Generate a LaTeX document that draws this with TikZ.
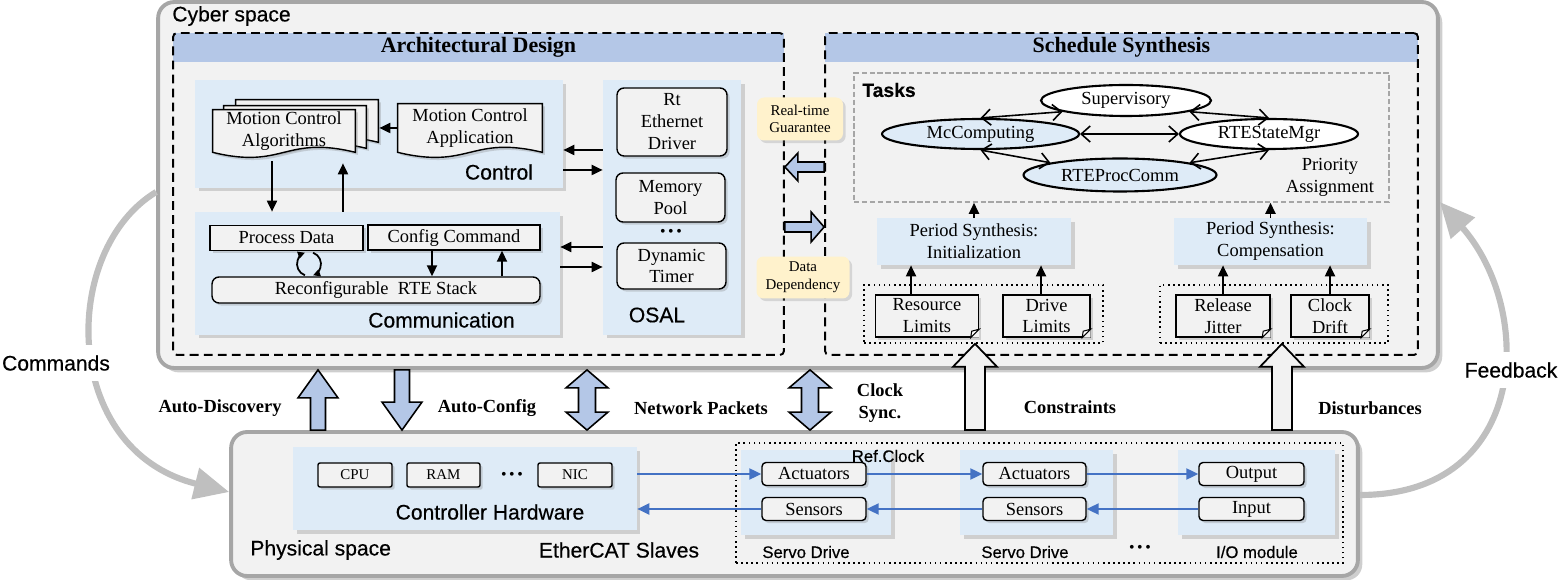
\documentclass[tikz,border=0pt]{standalone}
\usepackage{fontspec}
\setmainfont{Liberation Serif}
\newfontfamily\labelsf[FakeBold=0.4]{Liberation Sans}
\definecolor{csbg}{RGB}{242,242,242}
\definecolor{csframe}{RGB}{166,166,166}
\definecolor{cspanel}{RGB}{222,235,247}
\definecolor{csheader}{RGB}{180,199,231}
\definecolor{csnote}{RGB}{255,242,204}
\definecolor{cslink}{RGB}{68,114,196}
\definecolor{csarc}{RGB}{191,191,191}
\usetikzlibrary{arrows.meta,positioning,shapes.geometric,shadows,calc}

% document outline with a wavy lower edge
\newcommand{\wavedoc}[2][(0,0)]{%
  \draw[docline] ([shift={#1}]#2.south west) -- ([shift={#1}]#2.north west) -- ([shift={#1}]#2.north east)
    -- ([shift={#1}]#2.south east) .. controls ([shift={#1},yshift=0.35cm]#2.south) and ([shift={#1},yshift=-0.35cm]#2.south)
    .. ([shift={#1}]#2.south west) -- cycle;}
% folded corner of a note
\newcommand{\foldnote}[1]{%
  \fill[csbg] ([xshift=-0.17cm]#1.south east) -- (#1.south east) -- ([yshift=0.17cm]#1.south east) -- cycle;
  \draw[line width=0.6pt, fill=white] ([xshift=-0.17cm]#1.south east) -- ([yshift=0.17cm]#1.south east)
    -- ([xshift=-0.15cm,yshift=0.13cm]#1.south east) -- cycle;}
% block arrow: style, tail, tip, shaft half width, head half width, head length
\newcommand{\blkarrow}[6]{%
  \coordinate (hb) at ($(#3)!#6!(#2)$);
  \path[#1] ($(#2)!#4!90:(#3)$) -- ($(hb)!#4!90:(#3)$) -- ($(hb)!#5!90:(#3)$) -- (#3)
    -- ($(hb)!#5!-90:(#3)$) -- ($(hb)!#4!-90:(#3)$) -- ($(#2)!#4!-90:(#3)$) -- cycle;}
% block arrow with two heads
\newcommand{\blkdouble}[6]{%
  \coordinate (hba) at ($(#2)!#6!(#3)$);
  \coordinate (hbb) at ($(#3)!#6!(#2)$);
  \path[#1] (#2) -- ($(hba)!#5!90:(#3)$) -- ($(hba)!#4!90:(#3)$) -- ($(hbb)!#4!-90:(#2)$) -- ($(hbb)!#5!-90:(#2)$)
    -- (#3) -- ($(hbb)!#5!90:(#2)$) -- ($(hbb)!#4!90:(#2)$) -- ($(hba)!#4!-90:(#3)$) -- ($(hba)!#5!-90:(#3)$) -- cycle;}

\begin{document}
\begin{tikzpicture}[x=0.02cm, y=-0.02cm,
  every node/.style={font=\fontsize{10.5}{12.5}\selectfont, inner sep=0pt},
  bigbox/.style={draw=csframe, line width=2.2pt, fill=csbg, rounded corners=0.32cm,
    drop shadow={opacity=0.35, shadow xshift=2.5pt, shadow yshift=-2.5pt, fill=black!55}},
  dashbox/.style={draw=black, line width=1.1pt, dash pattern=on 5pt off 3pt, rounded corners=0.08cm},
  headband/.style={fill=csheader, font=\bfseries\fontsize{12.5}{14}\selectfont},
  panel/.style={fill=cspanel, align=center, drop shadow={opacity=0.3, shadow xshift=2pt, shadow yshift=-2pt}},
  docline/.style={draw=black, line width=0.8pt, fill=csbg, drop shadow={opacity=0.3, shadow xshift=1.5pt, shadow yshift=-1.5pt}},
  plainbox/.style={draw=black, line width=0.8pt, fill=csbg, align=center,
    drop shadow={opacity=0.3, shadow xshift=1.5pt, shadow yshift=-1.5pt}},
  roundbox/.style={plainbox, rounded corners=0.14cm},
  hwbox/.style={plainbox, rounded corners=0.04cm, minimum height=0.48cm, font=\fontsize{8.5}{10}\selectfont},
  devbox/.style={plainbox, rounded corners=0.08cm, minimum height=0.46cm},
  notebox/.style={plainbox, minimum height=0.84cm},
  tagbox/.style={fill=csnote, rounded corners=0.14cm, align=center, font=\fontsize{8.5}{10}\selectfont,
    drop shadow={opacity=0.25, shadow xshift=1.5pt, shadow yshift=-1.5pt}},
  taskell/.style={ellipse, draw=black, line width=1.2pt},
  tasksbox/.style={draw=black!35, line width=0.9pt, dash pattern=on 3pt off 1.5pt},
  dotbox/.style={draw=black, line width=0.9pt, dotted},
  sflabel/.style={font=\labelsf\fontsize{12}{14}\selectfont},
  smalllabel/.style={font=\labelsf\fontsize{9.5}{11}\selectfont},
  boldlabel/.style={font=\bfseries\fontsize{10.5}{12.5}\selectfont, align=center},
  sidelabel/.style={font=\labelsf\fontsize{12}{14}\selectfont, fill=white, inner sep=6pt},
  dotrow/.style={font=\fontsize{9}{9}\selectfont},
  blk/.style={line width=1.1pt, -{Triangle[length=0.22cm,width=0.2cm]}},
  cycarr/.style={line width=1pt, -{Triangle[length=0.14cm,width=0.14cm]}},
  dbl/.style={line width=0.9pt, {Straight Barb[length=0.18cm,width=0.32cm]}-{Straight Barb[length=0.18cm,width=0.32cm]}},
  buslink/.style={draw=cslink, line width=1.2pt, -{Triangle[length=0.24cm,width=0.22cm]}},
  bluearr/.style={draw=black, line width=0.9pt, fill=csheader},
  greyarr/.style={draw=black, line width=1pt, fill=csbg},
  loopback/.style={draw=csarc, line width=3.5pt, -{Triangle[length=0.7cm,width=0.62cm]}}]
  \useasboundingbox (0,0) rectangle (1558,580);

  % Cyber and physical frames
  \node[bigbox, minimum width=25.6cm, minimum height=7.32cm] (cyber) at (798,185) {};
  \node[bigbox, minimum width=22.54cm, minimum height=2.88cm] (phys) at (794.5,504) {};
  \node[sflabel, anchor=west] (cyberlbl) at (172,16) {Cyber space};
  \node[sflabel, anchor=west] (physlbl) at (250,550) {Physical space};

  % Architectural design block
  \node[headband, minimum width=12.22cm, minimum height=0.58cm] (archhead) at (478.5,47.5) {Architectural Design};
  \node[dashbox, minimum width=12.22cm, minimum height=6.44cm] (arch) at (478.5,194) {};

  % Control panel
  \node[panel, minimum width=7.36cm, minimum height=2.16cm] (ctrl) at (379,134) {};
  \node[sflabel] (ctrllbl) at (499,172) {Control};
  \node[minimum width=2.84cm, minimum height=0.84cm] (alg) at (284,131) {};
  \wavedoc[(23,-10)]{alg}
  \wavedoc[(11,-4)]{alg}
  \wavedoc{alg}
  \node[align=center] (algtxt) at (alg) {Motion Control\\Algorithms};
  \node[minimum width=2.88cm, minimum height=0.96cm] (app) at (470,128) {};
  \wavedoc{app}
  \node[align=center] (apptxt) at (app) {Motion Control\\Application};
  \draw[blk] (app.west) -- ([xshift=0.48cm]alg.east |- app.west);

  % Communication panel
  \node[panel, minimum width=7.3cm, minimum height=2.46cm] (comm) at (377.5,273.5) {};
  \node[sflabel] (commlbl) at (441.5,320) {Communication};
  \node[plainbox, minimum width=3.06cm, minimum height=0.5cm] (pdata) at (286.5,238) {Process Data};
  \node[plainbox, minimum width=3.44cm, minimum height=0.5cm] (cfgcmd) at (454,237.5) {Config Command};
  \node[roundbox, minimum width=6.56cm, minimum height=0.52cm] (rte) at (376,290) {Reconfigurable\ \ RTE Stack};
  \draw[blk] ([xshift=-0.44cm]cfgcmd.south) -- ([xshift=-0.44cm]cfgcmd.south |- rte.north);
  \draw[blk] ([xshift=0.96cm]cfgcmd.south |- rte.north) -- ([xshift=0.96cm]cfgcmd.south);
  \coordinate (cyc) at (309,264);
  \draw[cycarr] ([shift={(250:0.24cm)}]cyc) arc[start angle=250, end angle=110, radius=0.24cm];
  \draw[cycarr] ([shift={(70:0.24cm)}]cyc) arc[start angle=70, end angle=-70, radius=0.24cm];

  % Control <-> Communication
  \draw[blk] ([xshift=-0.24cm,yshift=-0.18cm]alg.south) -- ([xshift=-0.24cm]alg.south |- comm.north);
  \draw[blk] ([xshift=1.18cm]alg.south |- comm.north) -- ([xshift=1.18cm,yshift=-0.22cm]alg.south);

  % OSAL panel
  \node[panel, minimum width=2.76cm, minimum height=5.1cm] (osal) at (672,207.5) {};
  \node[sflabel] (osallbl) at (657,315) {OSAL};
  \node[roundbox, minimum width=2.2cm, minimum height=1.36cm] (rtdrv) at (672,122) {Rt\\Ethernet\\Driver};
  \node[roundbox, minimum width=2.18cm, minimum height=0.98cm] (mempool) at (670.5,197.5) {Memory\\Pool};
  \node[dotrow] (osaldots) at (671,233) {\textbullet\,\textbullet\,\textbullet};
  \node[roundbox, minimum width=2.18cm, minimum height=0.92cm] (dyntimer) at (671.5,266) {Dynamic\\Timer};
  \draw[blk] ([yshift=-0.32cm]ctrl.east -| osal.west) -- ([yshift=-0.32cm]ctrl.east);
  \draw[blk] ([yshift=-0.72cm]ctrl.east) -- ([yshift=-0.72cm]ctrl.east -| osal.west);
  \draw[blk] ([yshift=0.53cm]comm.east -| osal.west) -- ([yshift=0.53cm]comm.east);
  \draw[blk] ([yshift=0.13cm]comm.east) -- ([yshift=0.13cm]comm.east -| osal.west);

  % Schedule synthesis block
  \node[headband, minimum width=11.86cm, minimum height=0.58cm] (schedhead) at (1121.5,47.5) {Schedule Synthesis};
  \node[dashbox, minimum width=11.86cm, minimum height=6.44cm] (sched) at (1121.5,194) {};

  % Tags between the blocks
  \node[tagbox, minimum width=1.72cm, minimum height=0.86cm] (rtguar) at (800,119) {Real-time\\Guarantee};
  \node[tagbox, minimum width=1.86cm, minimum height=0.84cm] (datadep) at (803,277.5) {Data\\Dependency};
  \coordinate (rtgy) at (805,167);
  \coordinate (ddy) at (805,227);
  \blkarrow{bluearr}{sched.west |- rtgy}{arch.east |- rtgy}{0.1cm}{0.28cm}{0.26cm}
  \blkarrow{bluearr}{arch.east |- ddy}{sched.west |- ddy}{0.1cm}{0.3cm}{0.26cm}

  % Tasks
  \node[tasksbox, minimum width=10.7cm, minimum height=2.58cm] (tasks) at (1121.5,137.5) {};
  \node[font=\labelsf\bfseries\fontsize{11}{13}\selectfont] (taskslbl) at (889,90) {Tasks};
  \node[taskell, fill=white, minimum width=3.4cm, minimum height=0.62cm] (superv) at (1126,100.5) {Supervisory};
  \node[taskell, fill=cspanel, minimum width=3.94cm, minimum height=0.6cm] (mccomp) at (980.5,134) {McComputing};
  \node[taskell, fill=white, minimum width=3.56cm, minimum height=0.6cm] (rtestate) at (1269,134) {RTEStateMgr};
  \node[taskell, fill=cspanel, minimum width=3.86cm, minimum height=0.66cm] (rteproc) at (1120,175) {RTEProcComm};
  \node[align=center] (prio) at (1330,177) {Priority\\Assignment};
  \draw[dbl] (mccomp.north) -- (superv.190);
  \draw[dbl] (superv.-10) -- (rtestate.north);
  \draw[dbl] (mccomp.east) -- (rtestate.west);
  \draw[dbl] (mccomp.south) -- (rteproc.170);
  \draw[dbl] (rteproc.10) -- (rtestate.south);

  % Period synthesis
  \node[panel, minimum width=3.88cm, minimum height=0.94cm] (pinit) at (974,241.5) {Period Synthesis:\\Initialization};
  \node[panel, minimum width=3.86cm, minimum height=0.94cm] (pcomp) at (1270.5,241.5) {Period Synthesis:\\Compensation};
  \draw[blk] (pinit.north) -- (pinit.north |- tasks.south);
  \draw[blk] (pcomp.north) -- (pcomp.north |- tasks.south);

  % Constraint and disturbance inputs
  \node[dotbox, minimum width=4.78cm, minimum height=1.16cm] (constrgrp) at (983.5,314) {};
  \node[notebox, minimum width=2.06cm] (reslim) at (927,316) {Resource\\Limits};
  \foldnote{reslim}
  \node[notebox, minimum width=1.74cm] (drvlim) at (1046.5,316) {Drive\\Limits};
  \foldnote{drvlim}
  \node[dotbox, minimum width=4.56cm, minimum height=1.16cm] (distgrp) at (1274,314) {};
  \node[notebox, minimum width=1.88cm] (reljit) at (1223,316) {Release\\Jitter};
  \foldnote{reljit}
  \node[notebox, minimum width=1.56cm] (clkdrift) at (1330,316) {Clock\\Drift};
  \foldnote{clkdrift}
  \draw[blk] ([xshift=-0.32cm]reslim.north) -- ([xshift=-0.32cm]reslim.north |- pinit.south);
  \draw[blk] ([xshift=-0.11cm]drvlim.north) -- ([xshift=-0.11cm]drvlim.north |- pinit.south);
  \draw[blk] (reljit.north) -- (reljit.north |- pcomp.south);
  \draw[blk] (clkdrift.north) -- (clkdrift.north |- pcomp.south);

  % Controller hardware
  \node[panel, minimum width=6.88cm, minimum height=1.66cm] (ctrlhw) at (465,488.5) {};
  \node[hwbox, minimum width=1.48cm] (cpu) at (355,475) {CPU};
  \node[hwbox, minimum width=1.46cm] (ram) at (443.5,475) {RAM};
  \node[dotrow] (hwdots) at (512,476) {\textbullet\,\textbullet\,\textbullet};
  \node[hwbox, minimum width=1.48cm] (nic) at (575,475) {NIC};
  \node[sflabel] (ctrlhwlbl) at (490,512) {Controller Hardware};
  \node[sflabel] (ethlbl) at (619,550) {EtherCAT Slaves};

  % EtherCAT slaves
  \node[dotbox, minimum width=12.14cm, minimum height=2.4cm] (slaves) at (1039.5,503) {};
  \node[panel, minimum width=3cm, minimum height=1.7cm] (servoa) at (816,492.5) {};
  \node[panel, minimum width=3.06cm, minimum height=1.7cm] (servob) at (1036.5,492.5) {};
  \node[panel, minimum width=3.14cm, minimum height=1.7cm] (iomod) at (1256.5,492.5) {};
  \node[devbox, minimum width=2.08cm] (acta) at (814,474) {Actuators};
  \node[devbox, minimum width=2.08cm] (sensa) at (814,509) {Sensors};
  \node[devbox, minimum width=2.06cm] (actb) at (1034.5,474) {Actuators};
  \node[devbox, minimum width=2.06cm] (sensb) at (1034.5,509) {Sensors};
  \node[devbox, minimum width=2.1cm] (outp) at (1251.5,474) {Output};
  \node[devbox, minimum width=2.1cm] (inp) at (1251.5,509) {Input};
  \node[smalllabel] (refclk) at (888,456) {Ref.Clock};
  \node[smalllabel] (servoalbl) at (806,552) {Servo Drive};
  \node[smalllabel] (servoblbl) at (1025,552) {Servo Drive};
  \node[dotrow] (slvdots) at (1140,549) {\textbullet\,\textbullet\,\textbullet};
  \node[smalllabel] (iolbl) at (1257,552) {I/O module};
  \draw[buslink] (ctrlhw.east |- acta.west) -- (acta.west);
  \draw[buslink] (acta) -- (actb);
  \draw[buslink] (actb) -- (outp);
  \draw[buslink] (inp) -- (sensb);
  \draw[buslink] (sensb) -- (sensa);
  \draw[buslink] (sensa.west) -- (sensa.west -| ctrlhw.east);

  % Arrows between cyber and physical space
  \coordinate (adx) at (318,400);
  \coordinate (acx) at (402,400);
  \coordinate (npx) at (587,400);
  \coordinate (csx) at (810,400);
  \coordinate (cnx) at (975,400);
  \coordinate (dbx) at (1282,400);
  \blkarrow{bluearr}{adx |- phys.north}{adx |- cyber.south}{0.15cm}{0.4cm}{0.56cm}
  \blkarrow{bluearr}{acx |- cyber.south}{acx |- phys.north}{0.15cm}{0.4cm}{0.56cm}
  \blkdouble{bluearr}{npx |- cyber.south}{npx |- phys.north}{0.17cm}{0.42cm}{0.36cm}
  \blkdouble{bluearr}{csx |- cyber.south}{csx |- phys.north}{0.17cm}{0.42cm}{0.36cm}
  \blkarrow{greyarr}{cnx |- phys.north}{cnx |- constrgrp.south}{0.2cm}{0.44cm}{0.46cm}
  \blkarrow{greyarr}{dbx |- phys.north}{dbx |- distgrp.south}{0.2cm}{0.44cm}{0.46cm}
  \node[boldlabel] (adlbl) at (220,408) {Auto-Discovery};
  \node[boldlabel] (aclbl) at (487,408) {Auto-Config};
  \node[boldlabel] (nplbl) at (701,408) {Network Packets};
  \node[boldlabel] (cslbl) at (880,403) {Clock\\Sync.};
  \node[boldlabel] (cnlbl) at (1070,407) {Constraints};
  \node[boldlabel] (dblbl) at (1370,408) {Disturbances};

  % Commands and feedback loops
  \draw[loopback] ([yshift=-0.14cm]cyber.west) .. controls (60,250) and (60,450) .. ([yshift=0.24cm]phys.west);
  \draw[loopback] ([yshift=0.18cm]phys.east) .. controls (1530,495) and (1535,310) .. ([yshift=-0.34cm]cyber.east);
  \node[sidelabel] (cmdlbl) at (56,363) {Commands};
  \node[sidelabel] (fblbl) at (1511,370) {Feedback};
\end{tikzpicture}
\end{document}
